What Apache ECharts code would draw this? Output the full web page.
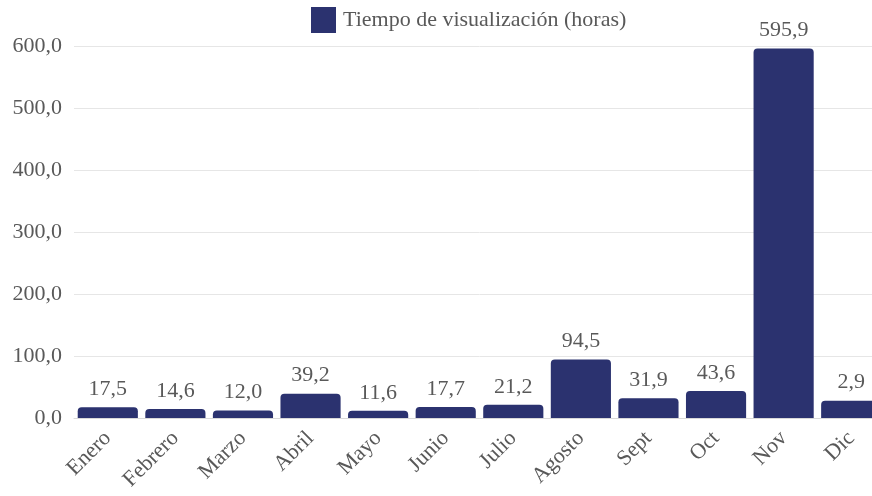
<!DOCTYPE html>
<html>
<head>
<meta charset="utf-8">
<script src="https://cdn.jsdelivr.net/npm/echarts@6/dist/echarts.min.js"></script>
<style>
html, body { margin: 0; padding: 0; overflow: hidden; background: #fff; }
#chart { width: 888px; height: 496px; }
</style>
</head>
<body>
<div id="chart"></div>
<script>
// meses y horas de visualizacion
var months = ["Enero", "Febrero", "Marzo", "Abril", "Mayo", "Junio", "Julio", "Agosto", "Sept", "Oct", "Nov", "Dic"];
var hours = [17.5, 14.6, 12.0, 39.2, 11.6, 17.7, 21.2, 94.5, 31.9, 43.6, 595.9, 28.0];
// etiquetas tal como aparecen en la figura
var barLabels = ["17,5", "14,6", "12,0", "39,2", "11,6", "17,7", "21,2", "94,5", "31,9", "43,6", "595,9", "2,9"];
var yTicks = [0, 100, 200, 300, 400, 500, 600];

var font = "Liberation Serif";
var grey = "#595959";

var chart = echarts.init(document.getElementById("chart"));
chart.setOption({
    animation: false,
    textStyle: {fontFamily: font},
    legend: {
        left: 306,
        top: 2,
        icon: "rect",
        itemWidth: 25,
        itemHeight: 26,
        itemGap: 10,
        textStyle: {fontFamily: font, fontSize: 22, color: grey, padding: [2, 0, 0, 2]},
        data: ["Tiempo de visualización (horas)"]
    },
    grid: {left: 74, right: 3, top: 46, bottom: 78},
    xAxis: {
        type: "category",
        data: months,
        axisTick: {show: false},
        axisLine: {lineStyle: {color: "#d9d9d9", width: 1}},
        axisLabel: {
            rotate: 45,
            interval: 0,
            margin: 17,
            fontFamily: font,
            fontSize: 22,
            color: grey
        }
    },
    yAxis: {
        type: "value",
        min: yTicks[0],
        max: yTicks[yTicks.length - 1],
        interval: 100,
        axisLine: {show: false},
        axisTick: {show: false},
        splitLine: {lineStyle: {color: "#e6e6e6", width: 1}},
        axisLabel: {
            margin: 12,
            fontFamily: font,
            fontSize: 22,
            color: grey,
            formatter: function (v) { return v.toFixed(1).replace(".", ","); }
        }
    },
    series: [{
        name: "Tiempo de visualización (horas)",
        type: "bar",
        data: hours,
        barCategoryGap: "11%",
        itemStyle: {color: "#2b326f", borderRadius: [4, 4, 0, 0]},
        label: {
            show: true,
            position: "top",
            distance: 7,
            fontFamily: font,
            fontSize: 22,
            color: grey,
            formatter: function (p) { return barLabels[p.dataIndex]; }
        }
    }]
});
</script>
</body>
</html>
